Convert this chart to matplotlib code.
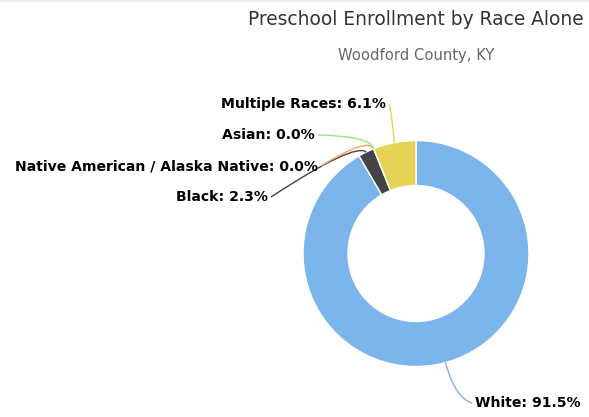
import matplotlib
matplotlib.use("Agg")
import matplotlib.pyplot as plt
from matplotlib.path import Path
from matplotlib.patches import PathPatch
import numpy as np

# Preschool enrollment shares by race (percent)
categories = ["White", "Black", "Native American / Alaska Native", "Asian", "Multiple Races"]
values = [91.5, 2.3, 0.0, 0.0, 6.1]
colors = ["#7cb5ec", "#434348", "#f7a35c", "#90ed7d", "#e4d354"]

title = "Preschool Enrollment by Race Alone"
subtitle = "Woodford County, KY"

W, H = 589, 417
fig = plt.figure(figsize=(W / 100, H / 100), dpi=100)
ax = fig.add_axes([0, 0, 1, 1])

cx, cy = 416, H - 253.5
R = 113
ring = 45

ax.pie(values, colors=colors, startangle=90, counterclock=False,
       radius=R, center=(cx, cy),
       wedgeprops=dict(width=ring, edgecolor="white", linewidth=1.0))
ax.set_xlim(0, W)
ax.set_ylim(0, H)
ax.set_aspect("equal")
ax.axis("off")

# thin rule along the top edge
ax.plot([0, W], [H - 0.5, H - 0.5], color="#e6e6e6", lw=1.2, solid_capstyle="butt")

ax.text(416, H - 19, title, ha="center", va="center", fontsize=13.4,
        color="#333333", family="DejaVu Sans")
ax.text(416, H - 55, subtitle, ha="center", va="center", fontsize=10.6,
        color="#666666", family="DejaVu Sans")

# label anchors (x, y from top, horizontal alignment) and connector bends
label_pos = {
    "White": (475, 403, "left", (455, 398)),
    "Black": (268, 197, "right", (355, 142)),
    "Native American / Alaska Native": (318, 166, "right", (368, 137)),
    "Asian": (315, 135, "right", (370, 136)),
    "Multiple Races": (386, 104, "right", (391, 108)),
}

total = sum(values)
cum = 0.0
for cat, val, col in zip(categories, values, colors):
    frac_mid = (cum + val / 2) / total
    cum += val
    ang = np.deg2rad(90 - 360 * frac_mid)
    px, py = cx + R * np.cos(ang), cy + R * np.sin(ang)
    lx, ly, ha, (bx, by) = label_pos[cat]
    ly = H - ly
    by = H - by
    sx = lx + (3 if ha == "right" else -3)
    path = Path([(sx, ly), (bx, by), (px, py)], [Path.MOVETO, Path.CURVE3, Path.CURVE3])
    ax.add_patch(PathPatch(path, fc="none", ec=col, lw=1.0))
    ax.text(lx, ly, f"{cat}: {val:.1f}%", ha=ha, va="center", fontsize=10.1,
            fontweight="bold", color="#000000", family="DejaVu Sans")

fig.savefig("out.png", dpi=100)
